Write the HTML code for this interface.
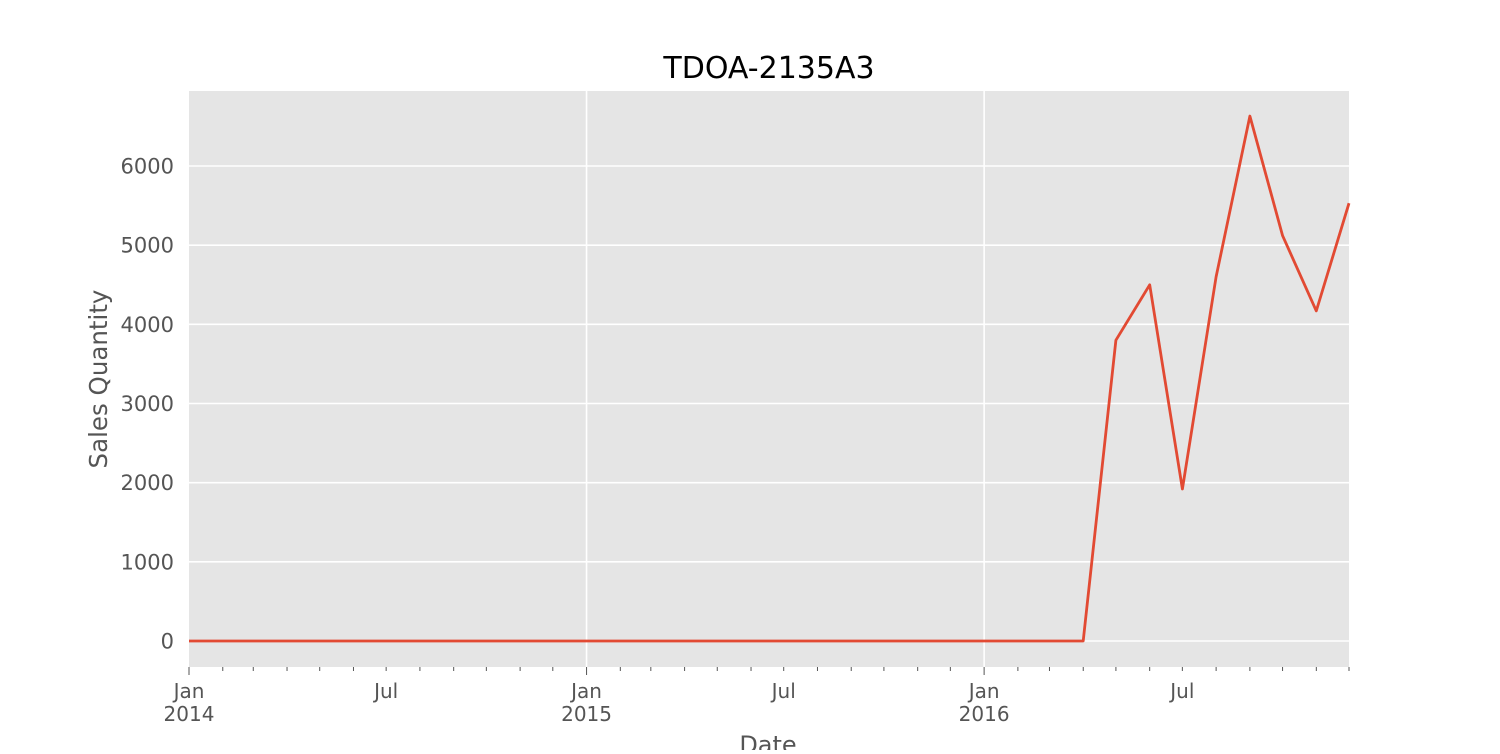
<!DOCTYPE html>
<html><head><meta charset="utf-8"><style>
body{margin:0;background:#fff;font-family:"DejaVu Sans","Liberation Sans",sans-serif}
</style></head><body>
<svg id="chart" width="1500" height="750" xmlns="http://www.w3.org/2000/svg" font-family="DejaVu Sans, Liberation Sans, sans-serif">
<rect x="189" y="91" width="1160" height="576" fill="#e5e5e5"/>
<g id="grid"></g><g id="ticks"></g>
<text x="769" y="78" text-anchor="middle" font-size="30" fill="#000">TDOA-2135A3</text>
<text x="768" y="753" text-anchor="middle" font-size="24" fill="#555">Date</text>
<text transform="translate(107,379) rotate(-90)" text-anchor="middle" font-size="24.5" fill="#555">Sales Quantity</text>
<g id="series"></g>
</svg>
<script>
const months=[];for(let y=2014;y<=2016;y++)for(let m=0;m<12;m++)months.push([y,m]);
const values=[0,0,0,0,0,0,0,0,0,0,0,0, 0,0,0,0,0,0,0,0,0,0,0,0, 0,0,0,0,3800,4500,1920,4600,6630,5120,4170,5530];
const yTicks=[0,1000,2000,3000,4000,5000,6000];
const ns="http://www.w3.org/2000/svg";
const t0=Date.UTC(2014,0,1),t1=Date.UTC(2016,11,1);
const X=d=>189+(d-t0)/(t1-t0)*1160;
const Y=v=>641-v*(475/6000);
function mk(tag,at,parent){const e=document.createElementNS(ns,tag);for(const k in at)e.setAttribute(k,at[k]);document.getElementById(parent).appendChild(e);return e;}
yTicks.forEach(v=>{
 const l=mk('line',{x1:189,x2:1349,y1:Y(v),y2:Y(v),stroke:'#fff','stroke-width':1.6},'grid');
 
 
 const t=mk('text',{x:174,y:Y(v)+7.5,'text-anchor':'end','font-size':21,fill:'#555'},'ticks');
 t.textContent=v;
 
 
});
months.forEach(([y,m])=>{
 const x=X(Date.UTC(y,m,1));
 if(m===0&&y>2014){const g=mk('line',{x1:x,x2:x,y1:91,y2:667,stroke:'#fff','stroke-width':1.6},'grid');
  
  }
 const tk=mk('line',{x1:x,x2:x,y1:667,y2:m===0?675:671,stroke:'#555','stroke-width':1},'ticks');
 
 
 if(m===0||m===6){
  const t=mk('text',{x:x,y:698,'text-anchor':'middle','font-size':20,fill:'#555'},'ticks');
  t.textContent=m===0?'Jan':'Jul';
  
  
  if(m===0){const t2=mk('text',{x:x,y:721,'text-anchor':'middle','font-size':20,fill:'#555'},'ticks');
   t2.textContent=y;
   
   }
 }
});
const pts=months.map(([y,m],i)=>X(Date.UTC(y,m,1)).toFixed(1)+','+Y(values[i]).toFixed(1)).join(' ');
const pl=mk('polyline',{points:pts,fill:'none',stroke:'#e24a33','stroke-width':2.8,'stroke-linejoin':'round'},'series');


</script>
</body></html>
